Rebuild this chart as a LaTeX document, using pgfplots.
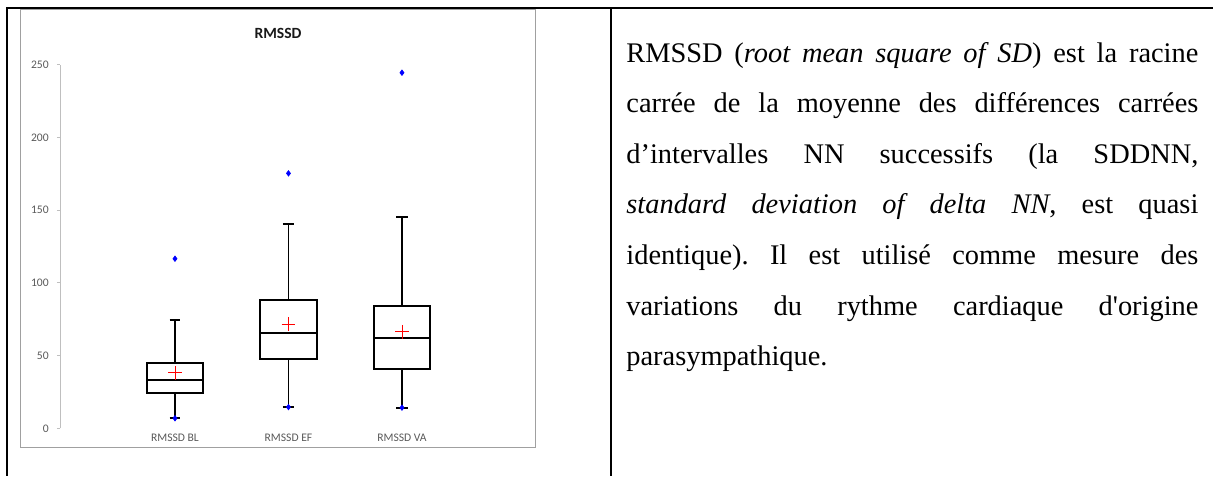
\documentclass[border=0pt]{standalone}
\usepackage{fontspec}
\usepackage{pgfplots}
\pgfplotsset{compat=1.18}
\usepgfplotslibrary{statistics}
\newfontfamily\tnr{Liberation Serif}
\newfontfamily\carlito{Carlito}
\definecolor{tickgray}{HTML}{595959}
\definecolor{axgray}{HTML}{BFBFBF}
\definecolor{framegray}{HTML}{A0A0A0}
\begin{document}
\begin{tikzpicture}
\begin{axis}[
  at={(30pt,-214.15pt)}, anchor=south west,
  scale only axis, width=227pt, height=181.8pt,
  xmin=-0.013, xmax=3.987, ymin=0, ymax=250,
  axis y line*=left, axis x line*=bottom,
  x axis line style={draw=none},
  y axis line style={draw=axgray, line width=0.5pt},
  xtick={1,2,3}, xticklabels={RMSSD BL, RMSSD EF, RMSSD VA},
  xtick style={draw=none},
  ytick={0,50,100,150,200,250},
  ytick style={draw=axgray, line width=0.5pt},
  tick align=outside, major tick length=1.6pt,
  /pgf/number format/assume math mode=true,
  ticklabel style={font=\carlito\fontsize{5.8pt}{7pt}\selectfont, text=tickgray},
  yticklabel style={xshift=-0.5pt},
  xticklabel style={yshift=2.5pt},
  boxplot/draw direction=y,
  boxplot/every whisker/.style={line width=0.9pt},
  boxplot/every box/.style={line width=0.9pt},
  boxplot/every median/.style={line width=0.9pt},
  clip=false,
]
\addplot[black, line width=0.9pt, boxplot prepared={draw position=1, lower whisker=6.9, lower quartile=24.5, median=33.0, upper quartile=45.1, upper whisker=74.5, box extend=0.5, whisker extend=0.094}] coordinates {};
\addplot[black, line width=0.9pt, boxplot prepared={draw position=2, lower whisker=14.6, lower quartile=47.9, median=65.5, upper quartile=88.2, upper whisker=140.7, box extend=0.5, whisker extend=0.1}] coordinates {};
\addplot[black, line width=0.9pt, boxplot prepared={draw position=3, lower whisker=14.2, lower quartile=40.6, median=62.3, upper quartile=84.1, upper whisker=145.3, box extend=0.5, whisker extend=0.1}] coordinates {};
\addplot[only marks, mark=+, red, mark size=3.4pt, mark options={line width=0.4pt}] coordinates {(1,38.2) (2,71.7) (3,66.4)};
\addplot[only marks, mark=diamond*, blue, mark size=1.3pt] coordinates {(1,116.6) (1,6.9) (2,175.3) (2,14.6) (3,244.5) (3,14.2)};
\end{axis}
\draw[framegray, line width=0.5pt] (10.25pt,-4.75pt) rectangle (267.5pt,-223.5pt);
\draw[black, line width=1pt] (3pt,-4pt) -- (606.5pt,-4pt);
\draw[black, line width=1pt] (3.5pt,-4pt) -- (3.5pt,-238pt);
\draw[black, line width=1pt] (305.5pt,-4pt) -- (305.5pt,-238pt);
\node[font=\carlito\bfseries\fontsize{7.8pt}{9pt}\selectfont, text=black!90, anchor=center, inner sep=0] at (139pt,-16.5pt) {RMSSD};
\node[anchor=base west, inner sep=0] at (313pt,-31pt) {\parbox[t]{286pt}{\tnr\fontsize{14.2pt}{25.3pt}\selectfont\hyphenpenalty=10000\frenchspacing
RMSSD (\textit{root mean square of SD}) est la racine\linebreak
carrée de la moyenne des différences carrées\linebreak
d’intervalles NN successifs (la SDDNN,\linebreak
\textit{standard deviation of delta NN}, est quasi\linebreak
identique). Il est utilisé comme mesure des\linebreak
variations du rythme cardiaque d'origine\linebreak
parasympathique.}};
\pgfresetboundingbox
\path (0pt,0pt) rectangle (606.5pt,-238pt);
\end{tikzpicture}
\end{document}
